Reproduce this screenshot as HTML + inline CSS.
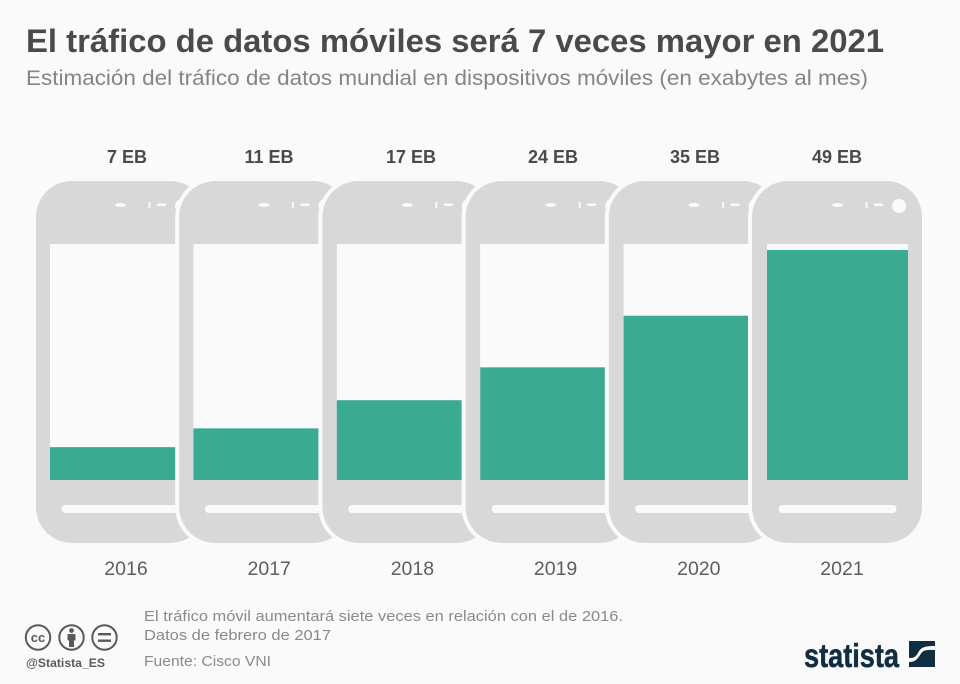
<!DOCTYPE html>
<html lang="es">
<head>
<meta charset="utf-8">
<title>El tráfico de datos móviles</title>
<style>
html,body{margin:0;padding:0;background:#fafafa;width:960px;height:684px;overflow:hidden}
svg{display:block;font-family:"Liberation Sans",sans-serif}
</style>
</head>
<body>
<svg id="chart" xmlns="http://www.w3.org/2000/svg" width="960" height="684" viewBox="0 0 960 684">
  <rect width="960" height="684" fill="#fafafa"/>
  <text x="26" y="52" font-size="32" font-weight="700" fill="#4a4a4a" textLength="858" lengthAdjust="spacingAndGlyphs">El tráfico de datos móviles será 7 veces mayor en 2021</text>
  <text x="26" y="85" font-size="21.5" fill="#858585" textLength="842" lengthAdjust="spacingAndGlyphs">Estimación del tráfico de datos mundial en dispositivos móviles (en exabytes al mes)</text>
  <g id="phones"></g>

  <g font-size="15" fill="#8a8a8a">
    <text x="144" y="621" textLength="479" lengthAdjust="spacingAndGlyphs">El tráfico móvil aumentará siete veces en relación con el de 2016.</text>
    <text x="144" y="640" textLength="187" lengthAdjust="spacingAndGlyphs">Datos de febrero de 2017</text>
    <text x="144" y="666" textLength="127" lengthAdjust="spacingAndGlyphs">Fuente: Cisco VNI</text>
  </g>

  <g fill="none" stroke="#5a5a5a" stroke-width="2">
    <g>
      <circle cx="38" cy="637.5" r="12.2"/>
      <text x="38" y="642" font-size="13" font-weight="700" text-anchor="middle" fill="#5a5a5a" stroke="none">cc</text>
    </g>
    <g>
      <circle cx="71.5" cy="637.5" r="12.2"/>
      <circle cx="71.5" cy="630.5" r="2.4" fill="#5a5a5a" stroke="none"/>
      <rect x="67.5" y="634" width="8" height="6.5" rx="1" fill="#5a5a5a" stroke="none"/>
      <rect x="69" y="640" width="5" height="7" fill="#5a5a5a" stroke="none"/>
    </g>
    <g>
      <circle cx="104.5" cy="637.5" r="12.2"/>
      <rect x="98" y="633" width="13" height="2.4" fill="#5a5a5a" stroke="none"/>
      <rect x="98" y="639.5" width="13" height="2.4" fill="#5a5a5a" stroke="none"/>
    </g>
  </g>
  <text x="26" y="667" font-size="12" font-weight="700" fill="#5a5a5a" textLength="79" lengthAdjust="spacingAndGlyphs">@Statista_ES</text>

  <g>
    <text x="804" y="667" font-size="33" font-weight="700" fill="#0f2e42" stroke="#0f2e42" stroke-width="0.5" textLength="95" lengthAdjust="spacingAndGlyphs">statista</text>
    <rect x="909" y="641" width="26" height="26" fill="#0f2e42"/>
    <path d="M909 662 C920 662 919 652 925 650.5 C929 649.5 932 650 935 650 L935 646 C926 646 921 646.5 918 653 C915 658 913 658 909 658 Z" fill="#fafafa"/>
  </g>
</svg>

<script>
const categories = ["2016", "2017", "2018", "2019", "2020", "2021"];
const values = [7, 11, 17, 24, 35, 49];
const valueLabels = ["7 EB", "11 EB", "17 EB", "24 EB", "35 EB", "49 EB"];

const NS = "http://www.w3.org/2000/svg";
const root = document.getElementById("phones");
const PHONE_W = 170, PHONE_TOP = 181, PHONE_H = 362;
const SCREEN_TOP = 244, BASELINE = 480, UNIT = 230 / 49;

function phoneX(i) { return 36 + i * 143.2; }
function contentX(i) { return 50 + i * 143.4; }
function labelX(i) { return 127 + i * 142; }
function yearX(i) { return 126 + i * 143.2; }
function barHeight(v) { return v * UNIT; }

function make(tag, attrs, parent) {
  const el = document.createElementNS(NS, tag);
  for (const k in attrs) el.setAttribute(k, attrs[k]);
  parent.appendChild(el);
  return el;
}

categories.forEach(function (cat, i) {
  const x = phoneX(i);
  const cx = contentX(i);

  const g = make("g", {}, root);
  
  

  const body = make("rect", { x: x, y: PHONE_TOP, width: PHONE_W, height: PHONE_H, rx: 36, ry: 36, fill: "#d8d8d8", stroke: "#fafafa", "stroke-width": i === 0 ? 0 : 8, "paint-order": "stroke" }, g);
  
  

  const screenRect = make("rect", { x: cx, y: SCREEN_TOP, width: 141, height: BASELINE - SCREEN_TOP, fill: "#fafafa" }, g);
  
  

  const h = barHeight(values[i]);
  const bar = make("rect", { x: cx, y: BASELINE - h, width: 141, height: h, fill: "#3aab91" }, g);
  
  

  const speaker = make("ellipse", { cx: cx + 70.5, cy: 205, rx: 5.5, ry: 2, fill: "#fafafa" }, g);
  
  

  const tick = make("rect", { x: cx + 98.5, y: 202, width: 2, height: 6, fill: "#fafafa" }, g);
  
  

  const dash = make("rect", { x: cx + 107, y: 203.5, width: 9, height: 2.5, fill: "#fafafa" }, g);
  
  

  const cam = make("circle", { cx: cx + 132, cy: 206, r: 7, fill: "#fafafa" }, g);
  
  

  const home = make("rect", { x: cx + 11.5, y: 505, width: 118, height: 8, rx: 4, ry: 4, fill: "#fafafa" }, g);
  
  

  const val = make("text", { x: labelX(i), y: 163, "text-anchor": "middle", "font-size": 18, "font-weight": 700, fill: "#4a4a4a" }, g);
  val.textContent = valueLabels[i];
  
  

  const yr = make("text", { x: yearX(i), y: 575, "text-anchor": "middle", "font-size": 19.5, fill: "#5e5e5e" }, g);
  yr.textContent = cat;
  
  
});
</script>
</body>
</html>
